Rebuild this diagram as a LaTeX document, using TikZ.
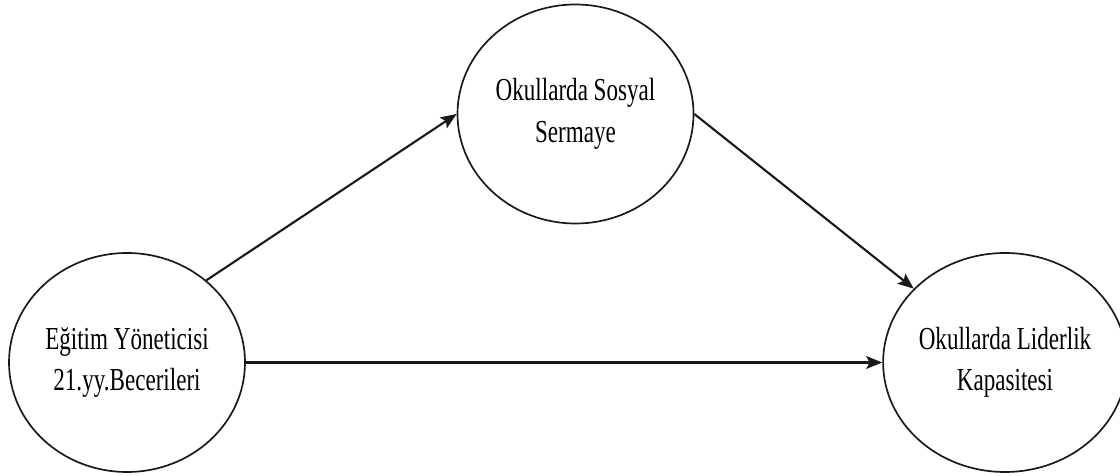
\documentclass[tikz,border=0pt]{standalone}
\usepackage{fontspec}
\setmainfont{Liberation Serif}[FakeStretch=0.72]
\usetikzlibrary{shapes.geometric,arrows.meta}

\begin{document}
\begin{tikzpicture}

  \definecolor{lincol}{rgb}{0.1,0.1,0.1}

 \useasboundingbox (0,0) rectangle (28,11.9);

 \coordinate (c0) at (3.175,2.8375);
 \coordinate (c1) at (14.3875,9.05);
 \coordinate (c2) at (25.125,2.8375);

 \tikzset{
      varstl/.style={draw=lincol,line width=1.2pt,ellipse,inner sep=0pt,
        minimum width=5.9cm,minimum height=5.475cm,align=center,
        font=\fontsize{22.8}{29.5}\selectfont},
      arrstl/.style={draw=lincol,line width=1.5pt,
        -{Stealth[length=0.4cm,width=0.32cm,inset=0.08cm]}},
    }

  %% the three variables.
  \node[varstl] (ege) at (c0) {Eğitim Yöneticisi\\21.yy.Becerileri};
  \node[varstl] (sos) at (c1) {Okullarda Sosyal\\Sermaye};
  \node[varstl] (lid) at (c2) {Okullarda Liderlik\\Kapasitesi};

  % paths.
  \draw[arrstl] (ege.46.6) -- (sos.west);
  \draw[arrstl] (sos.east) -- (lid.141);
  \draw[arrstl] (ege.east) -- (lid.west);

\end{tikzpicture}
\end{document}
